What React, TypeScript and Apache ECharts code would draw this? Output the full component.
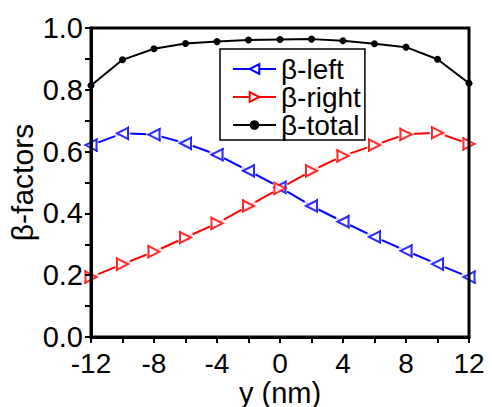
import React, { useEffect, useRef } from "react";
import * as echarts from "echarts";

const yPositions = [-12, -10, -8, -6, -4, -2, 0, 2, 4, 6, 8, 10, 12];
const betaLeft = [0.621, 0.659, 0.655, 0.627, 0.59, 0.538, 0.484, 0.424, 0.373, 0.324, 0.279, 0.236, 0.194];
const betaRight = [0.194, 0.236, 0.276, 0.322, 0.368, 0.424, 0.481, 0.538, 0.586, 0.621, 0.656, 0.661, 0.625];
const betaTotal = [0.814, 0.897, 0.933, 0.95, 0.956, 0.961, 0.963, 0.964, 0.959, 0.949, 0.938, 0.899, 0.821];
const seriesNames = ["β-left", "β-right", "β-total"];

const FONT = "'Liberation Sans', Arial, sans-serif";

export default function App() {
  const ref = useRef<HTMLDivElement>(null);
  useEffect(() => {
    if (!ref.current) return;
    const chart = echarts.init(ref.current, null, { renderer: "svg" });
    const pairs = (vals: number[]) => yPositions.map((x, i) => [x, vals[i]]);
    const blue = "#0000ff";
    const red = "#ff0000";
    const tickStyle = { width: 2, color: "#000" };
    const option: any = {
      animation: false,
      backgroundColor: "#fff",
      textStyle: { fontFamily: FONT },
      grid: {
        left: 91,
        right: 23,
        top: 28,
        bottom: 70,
        containLabel: false,
        outerBoundsMode: "none",
        show: true,
        z: 10,
        backgroundColor: "transparent",
        borderColor: "#000",
        borderWidth: 3,
      },
      legend: {
        data: seriesNames,
        orient: "vertical",
        left: 220,
        top: 49,
        itemGap: 0,
        itemWidth: 43,
        itemHeight: 12,
        padding: [6, 4, 1, 12],
        borderColor: "#000",
        borderWidth: 1.5,
        backgroundColor: "#fff",
        textStyle: { fontSize: 28, color: "#000", fontFamily: FONT },
        z: 20,
      },
      xAxis: {
        type: "value",
        min: -12,
        max: 12,
        interval: 4,
        z: 10,
        axisLine: { show: true, onZero: false, lineStyle: { color: "#000", width: 3 } },
        axisTick: { show: true, inside: false, length: 6, lineStyle: tickStyle },
        minorTick: { show: true, splitNumber: 2, length: 6, lineStyle: tickStyle },
        splitLine: { show: false },
        axisLabel: { fontSize: 28, color: "#000", margin: 12, fontFamily: FONT },
        name: "y (nm)",
        nameLocation: "middle",
        nameGap: 41,
        nameMoveOverlap: false,
        nameTextStyle: { fontSize: 29, color: "#000", fontFamily: FONT },
      },
      yAxis: {
        type: "value",
        min: 0,
        max: 1,
        interval: 0.2,
        z: 10,
        axisLine: { show: true, onZero: false, lineStyle: { color: "#000", width: 3 } },
        axisTick: { show: true, inside: false, length: 6, lineStyle: tickStyle },
        minorTick: { show: true, splitNumber: 2, length: 6, lineStyle: tickStyle },
        splitLine: { show: false },
        axisLabel: { fontSize: 29, color: "#000", margin: 8, fontFamily: FONT, formatter: (v: number) => v.toFixed(1) },
        name: "β-factors",
        nameLocation: "middle",
        nameRotate: 90,
        nameGap: 54,
        nameMoveOverlap: false,
        nameTextStyle: { fontSize: 30, color: "#000", fontFamily: FONT },
      },
      series: [
        {
          name: "β-left",
          type: "line",
          data: pairs(betaLeft),
          z: 2,
          symbol: "triangle",
          symbolRotate: 90,
          symbolSize: 11,
          itemStyle: { color: "#fff", borderColor: blue, borderWidth: 2 },
          lineStyle: { color: blue, width: 2 },
        },
        {
          name: "β-right",
          type: "line",
          data: pairs(betaRight),
          z: 2,
          symbol: "triangle",
          symbolRotate: -90,
          symbolSize: 11,
          itemStyle: { color: "#fff", borderColor: red, borderWidth: 2 },
          lineStyle: { color: red, width: 2 },
        },
        {
          name: "β-total",
          type: "line",
          data: pairs(betaTotal),
          z: 5,
          symbol: "circle",
          symbolSize: 7,
          itemStyle: { color: "#000" },
          lineStyle: { color: "#000", width: 2 },
        },
        {
          name: "haloL",
          type: "scatter",
          data: pairs(betaLeft),
          z: 3,
          silent: true,
          symbol: "circle",
          symbolSize: 16,
          itemStyle: { color: "#fff" },
        },
        {
          name: "haloR",
          type: "scatter",
          data: pairs(betaRight),
          z: 3,
          silent: true,
          symbol: "circle",
          symbolSize: 16,
          itemStyle: { color: "#fff" },
        },
        {
          name: "markL",
          type: "scatter",
          data: pairs(betaLeft),
          z: 4,
          silent: true,
          symbol: "triangle",
          symbolRotate: 90,
          symbolSize: 11,
          itemStyle: { color: "#fff", borderColor: blue, borderWidth: 2 },
        },
        {
          name: "markR",
          type: "scatter",
          data: pairs(betaRight),
          z: 4,
          silent: true,
          symbol: "triangle",
          symbolRotate: -90,
          symbolSize: 11,
          itemStyle: { color: "#fff", borderColor: red, borderWidth: 2 },
        },
      ],
    };
    chart.setOption(option);
    return () => chart.dispose();
  }, []);
  return <div ref={ref} style={{ width: 492, height: 407, position: "absolute", left: 0, top: 0 }} />;
}
